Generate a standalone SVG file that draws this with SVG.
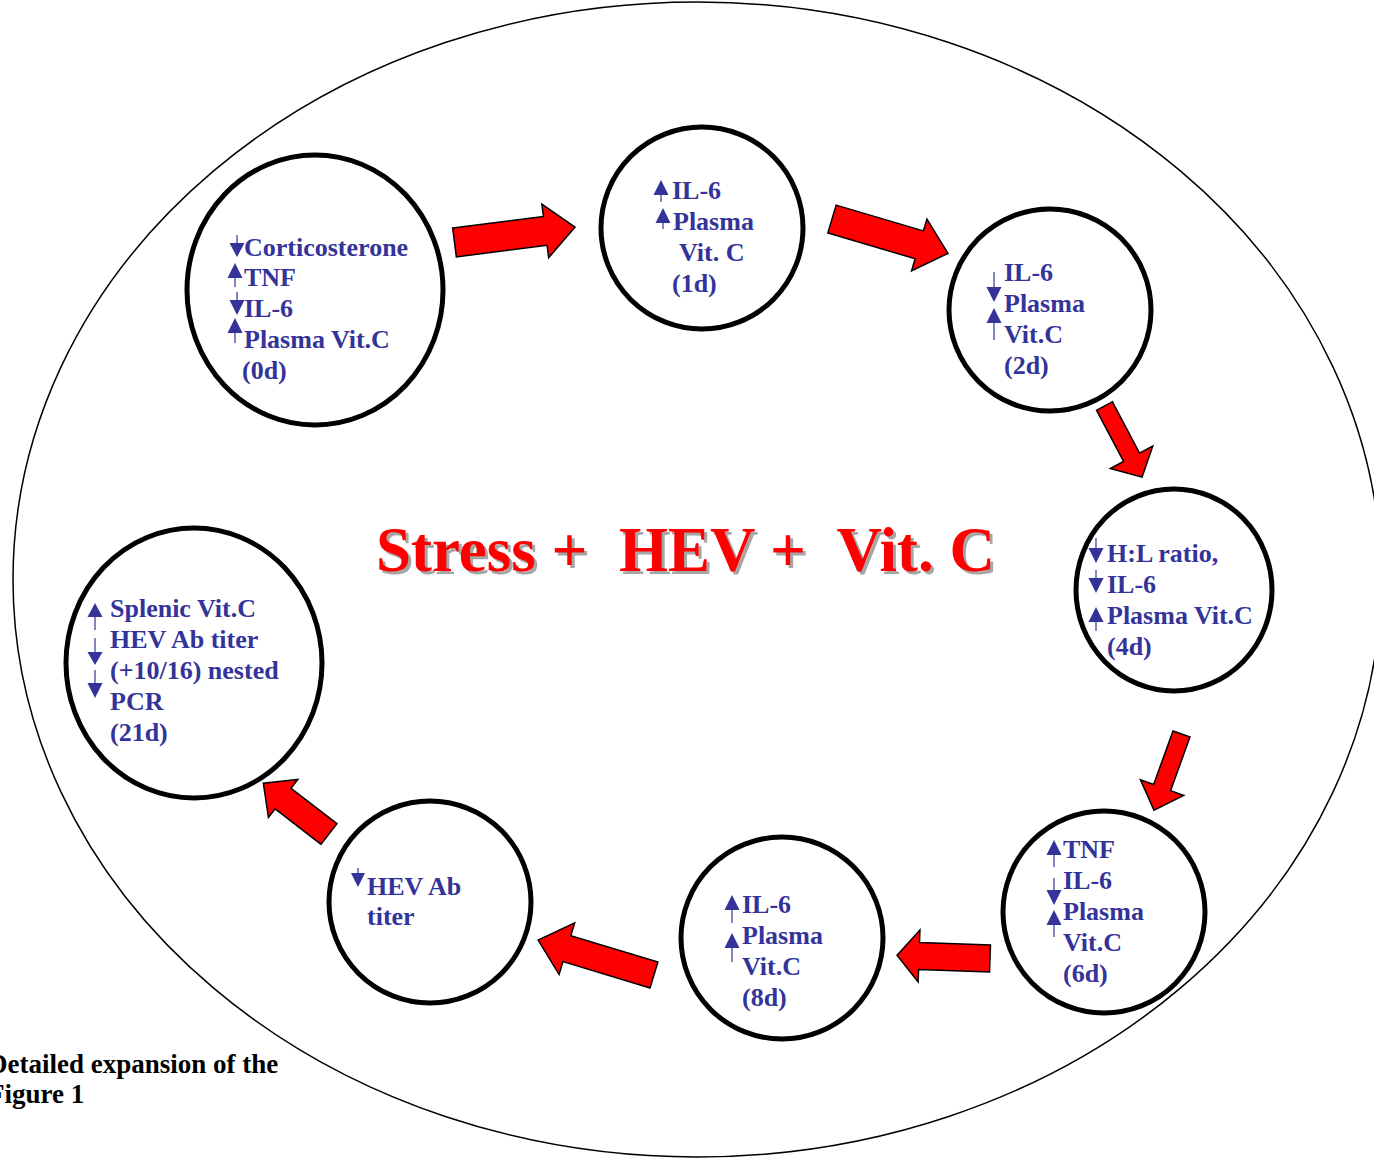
<svg xmlns="http://www.w3.org/2000/svg" width="1374" height="1159" viewBox="0 0 1374 1159">
<style>
.bg{fill:#fff}
.outer{fill:none;stroke:#000;stroke-width:1.5}
.node{fill:#fff;stroke:#000;stroke-width:5}
.t{font-family:"Liberation Serif","Times New Roman",serif;font-weight:bold;font-size:26px;fill:#333399}
.ar{fill:#333399}
.st{stroke:#333399;stroke-width:1.2;fill:none}
.red{fill:#ff0000;stroke:#000;stroke-width:1.5;stroke-linejoin:miter}
.title{font-family:"Liberation Serif","Times New Roman",serif;font-weight:bold;font-size:63px;white-space:pre}
.cap{font-family:"Liberation Serif","Times New Roman",serif;font-weight:bold;font-size:27px;fill:#000}
</style>
<rect class="bg" x="0" y="0" width="1374" height="1159"/>
<ellipse class="outer" cx="697" cy="579.5" rx="684" ry="577.5"/>

<g id="connectors">
<path class="red" transform="translate(454.5,242.5) rotate(-7.3)" d="M0,-14.5 L91.5,-14.5 L91.5,-27 L121.5,0 L91.5,27 L91.5,14.5 L0,14.5 Z"/>
<path class="red" transform="translate(832,219) rotate(16.5)" d="M0,-14.5 L91,-14.5 L91,-27 L121,0 L91,27 L91,14.5 L0,14.5 Z"/>
<path class="red" transform="translate(1104.5,406) rotate(62.2)" d="M0,-9 L58,-9 L58,-24 L80.5,0 L58,24 L58,9 L0,9 Z"/>
<path class="red" transform="translate(1181.5,734) rotate(109.9)" d="M0,-9 L57,-9 L57,-23 L81,0 L57,23 L57,9 L0,9 Z"/>
<path class="red" transform="translate(990,958.5) rotate(182)" d="M0,-13.5 L71,-13.5 L71,-26 L93,0 L71,26 L71,13.5 L0,13.5 Z"/>
<path class="red" transform="translate(654,975) rotate(196.8)" d="M0,-13.5 L91,-13.5 L91,-27 L121,0 L91,27 L91,13.5 L0,13.5 Z"/>
<path class="red" transform="translate(329,834) rotate(217.7)" d="M0,-13 L58,-13 L58,-24 L83,0 L58,24 L58,13 L0,13 Z"/>
</g>

<g id="node-0d">
<ellipse class="node" cx="315" cy="290" rx="128" ry="135"/>
<line class="st" x1="237" y1="235" x2="237" y2="243"/><path class="ar" d="M229.5,243 L244.5,243 L237,257 Z"/>
<path class="ar" d="M235,263 L242.5,278 L227.5,278 Z"/><line class="st" x1="235" y1="278" x2="235" y2="287"/>
<line class="st" x1="237" y1="292" x2="237" y2="300"/><path class="ar" d="M229.5,300 L244.5,300 L237,315 Z"/>
<path class="ar" d="M235,318 L242.5,333 L227.5,333 Z"/><line class="st" x1="235" y1="333" x2="235" y2="343"/>
<text class="t" x="244" y="256">Corticosterone</text>
<text class="t" x="244" y="286">TNF</text>
<text class="t" x="244" y="317">IL-6</text>
<text class="t" x="244" y="348">Plasma Vit.C</text>
<text class="t" x="242" y="379">(0d)</text>
</g>

<g id="node-1d">
<circle class="node" cx="702" cy="228" r="101"/>
<path class="ar" d="M661,180 L668.5,195 L653.5,195 Z"/><line class="st" x1="661" y1="195" x2="661" y2="202"/>
<path class="ar" d="M663,208 L670.5,223 L655.5,223 Z"/><line class="st" x1="663" y1="223" x2="663" y2="229"/>
<text class="t" x="672" y="199">IL-6</text>
<text class="t" x="673" y="230">Plasma</text>
<text class="t" x="679" y="261">Vit. C</text>
<text class="t" x="672" y="292">(1d)</text>
</g>

<g id="node-2d">
<circle class="node" cx="1050" cy="310" r="101"/>
<line class="st" x1="994" y1="272" x2="994" y2="287"/><path class="ar" d="M986.5,287 L1001.5,287 L994,302 Z"/>
<path class="ar" d="M994,308 L1001.5,323 L986.5,323 Z"/><line class="st" x1="994" y1="323" x2="994" y2="340"/>
<text class="t" x="1004" y="281">IL-6</text>
<text class="t" x="1004" y="312">Plasma</text>
<text class="t" x="1004" y="343">Vit.C</text>
<text class="t" x="1004" y="374">(2d)</text>
</g>

<g id="node-4d">
<ellipse class="node" cx="1174" cy="590" rx="98" ry="101"/>
<line class="st" x1="1096" y1="538" x2="1096" y2="548"/><path class="ar" d="M1088.5,548 L1103.5,548 L1096,563 Z"/>
<line class="st" x1="1096" y1="570" x2="1096" y2="578"/><path class="ar" d="M1088.5,578 L1103.5,578 L1096,593 Z"/>
<path class="ar" d="M1096,607 L1103.5,622 L1088.5,622 Z"/><line class="st" x1="1096" y1="622" x2="1096" y2="631"/>
<text class="t" x="1107" y="562">H:L ratio,</text>
<text class="t" x="1107" y="593">IL-6</text>
<text class="t" x="1107" y="624">Plasma Vit.C</text>
<text class="t" x="1107" y="655">(4d)</text>
</g>

<g id="node-6d">
<circle class="node" cx="1104" cy="912" r="101"/>
<path class="ar" d="M1054,840 L1061.5,855 L1046.5,855 Z"/><line class="st" x1="1054" y1="855" x2="1054" y2="867"/>
<line class="st" x1="1054" y1="878" x2="1054" y2="890"/><path class="ar" d="M1046.5,890 L1061.5,890 L1054,905 Z"/>
<path class="ar" d="M1054,910 L1061.5,925 L1046.5,925 Z"/><line class="st" x1="1054" y1="925" x2="1054" y2="937"/>
<text class="t" x="1063" y="858">TNF</text>
<text class="t" x="1063" y="889">IL-6</text>
<text class="t" x="1063" y="920">Plasma</text>
<text class="t" x="1063" y="951">Vit.C</text>
<text class="t" x="1063" y="982">(6d)</text>
</g>

<g id="node-8d">
<circle class="node" cx="782" cy="938" r="101"/>
<path class="ar" d="M732,895 L739.5,910 L724.5,910 Z"/><line class="st" x1="732" y1="910" x2="732" y2="923"/>
<path class="ar" d="M732,933 L739.5,948 L724.5,948 Z"/><line class="st" x1="732" y1="948" x2="732" y2="962"/>
<text class="t" x="742" y="913">IL-6</text>
<text class="t" x="742" y="944">Plasma</text>
<text class="t" x="742" y="975">Vit.C</text>
<text class="t" x="742" y="1006">(8d)</text>
</g>

<g id="node-hev">
<circle class="node" cx="430" cy="902" r="101"/>
<line class="st" x1="358" y1="868" x2="358" y2="873"/><path class="ar" d="M351,873 L365,873 L358,887 Z"/>
<text class="t" x="367" y="895">HEV Ab</text>
<text class="t" x="367" y="925">titer</text>
</g>

<g id="node-21d">
<ellipse class="node" cx="194" cy="663" rx="128" ry="135"/>
<path class="ar" d="M95,603 L102.5,617 L87.5,617 Z"/><line class="st" x1="95" y1="617" x2="95" y2="630"/>
<line class="st" x1="95" y1="638" x2="95" y2="652"/><path class="ar" d="M87.5,652 L102.5,652 L95,665 Z"/>
<line class="st" x1="95" y1="670" x2="95" y2="683"/><path class="ar" d="M87.5,683 L102.5,683 L95,698 Z"/>
<text class="t" x="110" y="617">Splenic Vit.C</text>
<text class="t" x="110" y="648">HEV Ab titer</text>
<text class="t" x="110" y="679">(+10/16) nested</text>
<text class="t" x="110" y="710">PCR</text>
<text class="t" x="110" y="741">(21d)</text>
</g>

<g id="title">
<text class="title" x="379" y="574" fill="#a6a6a6" xml:space="preserve">Stress +  HEV +  Vit. C</text>
<text class="title" x="376" y="571" fill="#ff0000" xml:space="preserve">Stress +  HEV +  Vit. C</text>
</g>

<g id="caption">
<text class="cap" x="-12" y="1073">Detailed expansion of the</text>
<text class="cap" x="-12" y="1103">Figure 1</text>
</g>
</svg>
